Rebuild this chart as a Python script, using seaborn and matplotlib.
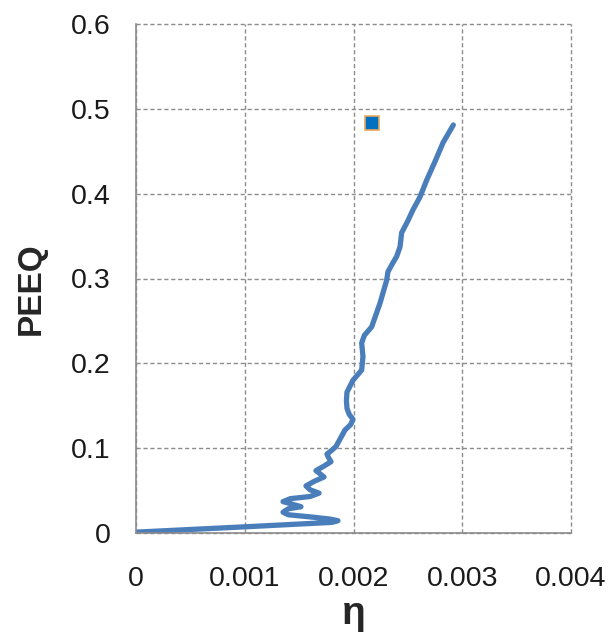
import matplotlib
matplotlib.use("Agg")
import matplotlib.pyplot as plt
import seaborn as sns
import pandas as pd

# Curve data (eta in units of 0.001, converted below; PEEQ)
eta_milli = [0.0, 1.018, 1.508, 1.80, 1.857, 1.78, 1.60, 1.40, 1.352, 1.40, 1.517,
             1.45, 1.352, 1.42, 1.60, 1.683, 1.60, 1.563, 1.64, 1.729, 1.69, 1.655,
             1.73, 1.793, 1.77, 1.756, 1.80, 1.839, 1.922, 1.975, 1.995, 1.96, 1.94,
             1.935, 1.94, 1.995, 2.075, 2.087, 2.075, 2.10, 2.167, 2.244, 2.305,
             2.317, 2.36, 2.397, 2.428, 2.443, 2.50, 2.547, 2.611, 2.673, 2.75,
             2.823, 2.918]
peeq = [0.001, 0.0074, 0.0106, 0.0125, 0.0145, 0.0165, 0.019, 0.0215, 0.0245, 0.0285,
        0.0310, 0.0335, 0.0370, 0.0405, 0.0430, 0.0470, 0.0510, 0.0555, 0.0610, 0.0660,
        0.0700, 0.0735, 0.0790, 0.0840, 0.0890, 0.0930, 0.0975, 0.1020, 0.1214, 0.128,
        0.1340, 0.140, 0.147, 0.156, 0.166, 0.180, 0.192, 0.208, 0.224, 0.233, 0.243,
        0.271, 0.298, 0.308, 0.318, 0.326, 0.3375, 0.354, 0.368, 0.381, 0.396, 0.416,
        0.438, 0.46, 0.481]

point_eta = [0.002173]
point_peeq = [0.483]

x_ticks = [0, 0.001, 0.002, 0.003, 0.004]
x_tick_labels = ["0", "0.001", "0.002", "0.003", "0.004"]
y_ticks = [0, 0.1, 0.2, 0.3, 0.4, 0.5, 0.6]
y_tick_labels = ["0", "0.1", "0.2", "0.3", "0.4", "0.5", "0.6"]

sns.set_style("white")
plt.rcParams["font.family"] = ["Liberation Sans", "DejaVu Sans"]

df = pd.DataFrame({"eta": [e / 1000.0 for e in eta_milli], "peeq": peeq})

fig = plt.figure(figsize=(6.14, 6.37), dpi=100)
ax = fig.add_axes([136 / 614, 1 - 533 / 637, (571 - 136) / 614, (533 - 24) / 637])

sns.lineplot(data=df, x="eta", y="peeq", sort=False, estimator=None,
             color="#4A7EBB", linewidth=3.8, ax=ax,
             solid_capstyle="round", solid_joinstyle="round")
sns.scatterplot(x=point_eta, y=point_peeq, marker="s", s=110, color="#0070C0",
                edgecolor="#E8A860", linewidth=1.2, ax=ax, zorder=5)

ax.set_xlim(0, 0.004)
ax.set_ylim(0, 0.6)
ax.set_xticks(x_ticks)
ax.set_xticklabels(x_tick_labels)
ax.set_yticks(y_ticks)
ax.set_yticklabels(y_tick_labels)

ax.grid(True, linestyle=(0, (3, 2)), color="#8C8C8C", linewidth=1.0)
for gl in ax.get_xgridlines() + ax.get_ygridlines():
    gl.set_clip_on(False)
ax.set_axisbelow(True)

for s in ["top", "right"]:
    ax.spines[s].set_visible(False)
for s in ["left", "bottom"]:
    ax.spines[s].set_color("#8C8C8C")
    ax.spines[s].set_linewidth(1.2)

ax.tick_params(axis="both", which="major", direction="out", length=10, width=1.2,
               color="#8C8C8C", labelsize=20.5, labelcolor="#1a1a1a", pad=8)
ax.tick_params(axis="x", pad=14)

ax.set_xlabel("η", fontsize=28, fontweight="bold", labelpad=3)
ax.set_ylabel("PEEQ", fontsize=24, fontweight="bold", labelpad=18)
ax.yaxis.set_label_coords(-0.205, 0.48)

fig.savefig("out.png", dpi=100)
